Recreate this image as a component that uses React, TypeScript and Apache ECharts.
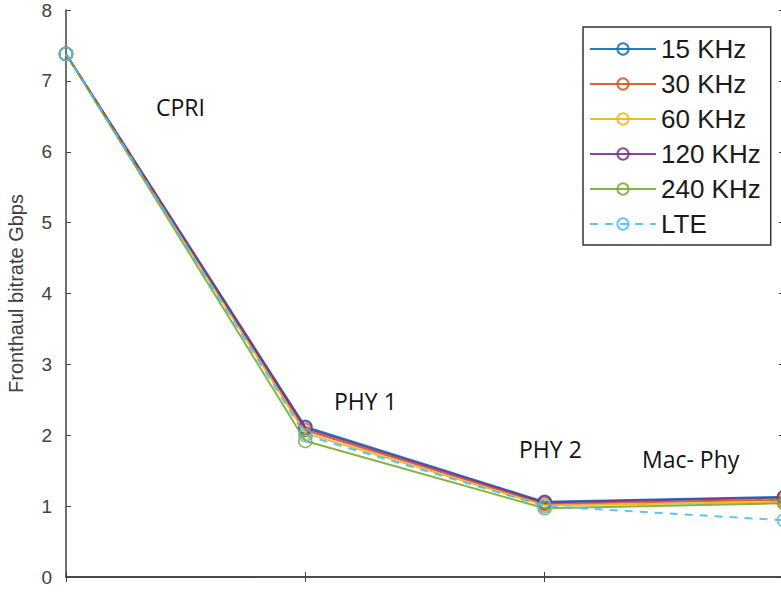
import React, { useEffect, useRef } from "react";
import * as echarts from "echarts";

const categories = ["CPRI", "PHY 1", "PHY 2", "Mac- Phy"];
const seriesNames = ["15 KHz", "30 KHz", "60 KHz", "120 KHz", "240 KHz", "LTE"];
const khz15 = [7.38, 2.12, 1.06, 1.13];
const khz30 = [7.38, 2.07, 1.03, 1.09];
const khz60 = [7.38, 2.03, 1.01, 1.06];
const khz120 = [7.38, 2.1, 1.05, 1.12];
const khz240 = [7.38, 1.92, 0.97, 1.04];
const lte = [7.38, 2.0, 1.0, 0.8];
const yTicks = [0, 1, 2, 3, 4, 5, 6, 7, 8];
const colors = ["#0072BD", "#D95319", "#EDB120", "#7E2F8E", "#77AC30", "#4DBEEE"];

export default function App() {
  const ref = useRef<HTMLDivElement>(null);
  useEffect(() => {
    document.body.style.margin = "0";
    const chart = echarts.init(ref.current!, null, { renderer: "svg" });
    const values = [khz15, khz30, khz60, khz120, khz240, lte];
    const axisColor = "#404040";
    const annoFont = "'Open Sans', sans-serif";
    chart.setOption({
      animation: false,
      backgroundColor: "#ffffff",
      grid: { left: 66, top: 10, right: -3, bottom: 15, containLabel: false, outerBoundsMode: "none" },
      legend: {
        orient: "vertical",
        left: 583,
        top: 27,
        data: seriesNames,
        itemWidth: 66,
        itemHeight: 14,
        itemGap: 9,
        padding: [9, 10, 8, 6],
        borderColor: "#333333",
        borderWidth: 1.5,
        backgroundColor: "#ffffff",
        textStyle: { fontFamily: "'Liberation Sans', Arial, sans-serif", fontSize: 26, color: "#1a1a1a", lineHeight: 26 },
      },
      xAxis: [
        {
          type: "category",
          data: categories,
          boundaryGap: false,
          axisLine: { lineStyle: { color: axisColor, width: 1.5 } },
          axisTick: { inside: true, length: 5, lineStyle: { color: axisColor } },
          axisLabel: { show: false },
          splitLine: { show: false },
        },
        {
          type: "category",
          data: categories,
          position: "top",
          boundaryGap: false,
          axisLine: { lineStyle: { color: axisColor, width: 1.5 } },
          axisTick: { inside: true, length: 5, lineStyle: { color: axisColor } },
          axisLabel: { show: false },
        },
      ],
      yAxis: [
        {
          type: "value",
          min: yTicks[0],
          max: yTicks[yTicks.length - 1],
          interval: 1,
          name: "Fronthaul bitrate Gbps",
          nameLocation: "middle",
          nameRotate: 90,
          nameGap: 40,
          nameTextStyle: { fontFamily: "'Liberation Sans', Arial, sans-serif", fontSize: 20, color: axisColor },
          axisLine: { show: true, lineStyle: { color: axisColor, width: 1.5 } },
          axisTick: { show: true, inside: true, length: 5, lineStyle: { color: axisColor } },
          axisLabel: { fontFamily: "'Liberation Sans', Arial, sans-serif", fontSize: 19, color: axisColor, margin: 14 },
          splitLine: { show: false },
        },
        {
          type: "value",
          position: "right",
          min: yTicks[0],
          max: yTicks[yTicks.length - 1],
          interval: 1,
          axisLine: { show: true, lineStyle: { color: axisColor, width: 1.5 } },
          axisTick: { show: true, inside: true, length: 5, lineStyle: { color: axisColor } },
          axisLabel: { show: false },
          splitLine: { show: false },
        },
      ],
      series: seriesNames.map((name, i) => ({
        name,
        type: "line",
        data: values[i],
        symbol: "circle",
        symbolSize: 13,
        showSymbol: true,
        itemStyle: { color: "rgba(255,255,255,0)", borderColor: colors[i], borderWidth: 1.5, opacity: 0.85 },
        lineStyle: { color: colors[i], width: 2, type: i === 5 ? [8, 7] : "solid", opacity: 0.9 },
        z: 2 + i,
      })),
      graphic: [
        { type: "text", left: 156, top: 95, style: { text: "CPRI", font: `23px ${annoFont}`, fill: "#111" } },
        { type: "text", left: 334, top: 389, style: { text: "PHY 1", font: `23px ${annoFont}`, fill: "#111" } },
        { type: "text", left: 519, top: 437, style: { text: "PHY 2", font: `23px ${annoFont}`, fill: "#111" } },
        { type: "text", left: 642, top: 447, style: { text: "Mac- Phy", font: `23px ${annoFont}`, fill: "#111" } },
      ],
    });
    return () => chart.dispose();
  }, []);
  return <div ref={ref} style={{ width: 781, height: 592 }} />;
}
